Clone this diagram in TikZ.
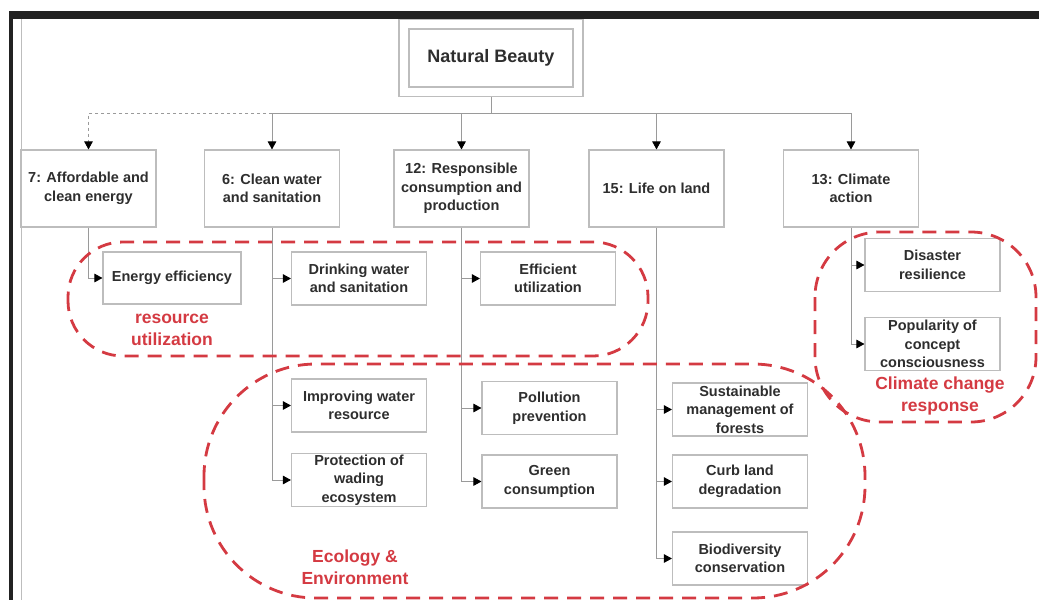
\documentclass[tikz,border=0pt]{standalone}
\usepackage{fontspec}
\setmainfont{Liberation Sans}
\usetikzlibrary{arrows.meta}
\definecolor{txt}{HTML}{2E2E2E}
\definecolor{boxc}{HTML}{BDBDBD}
\definecolor{linec}{HTML}{9A9A9A}
\definecolor{redc}{HTML}{D43A42}
\definecolor{framec}{HTML}{222222}
\tikzset{
  gbox/.style={draw=boxc, line width=1.1pt, fill=white, text=txt, align=center,
    font=\fontsize{14.5}{18.5}\selectfont\bfseries, inner sep=1pt,
    minimum width=135pt, minimum height=#1},
  gbox/.default=53pt,
  conn/.style={draw=linec, line width=0.9pt},
  tip/.style={-{Triangle[length=8pt,width=8.5pt,color=black,fill=black]}},
  zone/.style={draw=redc, line width=2.8pt, dash pattern=on 14pt off 9pt},
  zlabel/.style={text=redc, align=center, font=\fontsize{17.5}{22}\selectfont\bfseries}
}
\begin{document}
\begin{tikzpicture}[x=1pt,y=-1pt]
\useasboundingbox (0,0) rectangle (1039,600);
% frame
\fill[framec] (9,11) rectangle (1039,19);
\fill[framec] (9,11) rectangle (13,600);
\draw[boxc, line width=0.8pt] (21,19) -- (21,600);

% root
\node[draw=boxc, line width=1.1pt, minimum width=184pt, minimum height=77pt] (nbo) at (491,58) {};
\node[gbox=58pt, minimum width=164pt, font=\fontsize{18}{22}\selectfont\bfseries] (nb) at (491,58) {Natural Beauty};
\coordinate (bus) at (491,113);

% level 1
\node[gbox=77pt] (n7)  at (88.5,188.5) {7: Affordable and\\clean energy};
\node[gbox=77pt] (n6)  at (272,188.5) {6: Clean water\\and sanitation};
\node[gbox=77pt] (n12) at (461.5,188.5) {12: Responsible\\consumption and\\production};
\node[gbox=77pt] (n15) at (656.5,188.5) {15: Life on land};
\node[gbox=77pt] (n13) at (851,188.5) {13: Climate\\action};

% level 2
\node[gbox=52pt, minimum width=138pt] (ee) at (172,278) {Energy efficiency};
\node[gbox] (dw) at (359,278.5) {Drinking water\\and sanitation};
\node[gbox] (eu) at (548,278.5) {Efficient\\utilization};
\node[gbox] (iw) at (359,405.5) {Improving water\\resource};
\node[gbox] (pw) at (359,480) {Protection of\\wading\\ecosystem};
\node[gbox] (pp) at (549.5,408) {Pollution\\prevention};
\node[gbox] (gc) at (549.5,481.5) {Green\\consumption};
\node[gbox] (sm) at (740,409.5) {Sustainable\\management of\\forests};
\node[gbox] (cl) at (740,481.5) {Curb land\\degradation};
\node[gbox] (bc) at (740,558.5) {Biodiversity\\conservation};
\node[gbox] (dr) at (932.5,265) {Disaster\\resilience};
\node[gbox] (pc) at (932.5,344) {Popularity of\\concept\\consciousness};

% top connectors
\draw[conn] (nbo.south) -- (bus);
\draw[conn,tip] (bus) -| (n13.north);
\draw[conn,tip] (bus -| n15.north) -- (n15.north);
\draw[conn,tip] (bus -| n12.north) -- (n12.north);
\draw[conn,tip] (bus) -| (n6.north);
\draw[conn,dashed,tip] (bus -| n6.north) -| (n7.north);

% branches
\draw[conn,tip] (n7.south) |- (ee.west);
\draw[conn,tip] (n6.south) |- (pw.west);
\draw[conn,tip] (n6.south |- dw.west) -- (dw.west);
\draw[conn,tip] (n6.south |- iw.west) -- (iw.west);
\draw[conn,tip] (n12.south) |- (gc.west);
\draw[conn,tip] (n12.south |- eu.west) -- (eu.west);
\draw[conn,tip] (n12.south |- pp.west) -- (pp.west);
\draw[conn,tip] (n15.south) |- (bc.west);
\draw[conn,tip] (n15.south |- sm.west) -- (sm.west);
\draw[conn,tip] (n15.south |- cl.west) -- (cl.west);
\draw[conn,tip] (n13.south) |- (pc.west);
\draw[conn,tip] (n13.south |- dr.west) -- (dr.west);

% zones
\draw[zone, rounded corners=55pt] (68,242) rectangle (648,356);
\draw[zone, rounded corners=112pt] (204,364) rectangle (865,598);
\draw[zone, rounded corners=65pt] (815,232) rectangle (1036,422);

\node[zlabel] (lru) at (172,330) {resource\\utilization};
\node[zlabel] (lee) at (355,567) {Ecology \&\\Environment};
\node[zlabel] (lcc) at (940,396) {Climate change\\response};
\end{tikzpicture}
\end{document}
